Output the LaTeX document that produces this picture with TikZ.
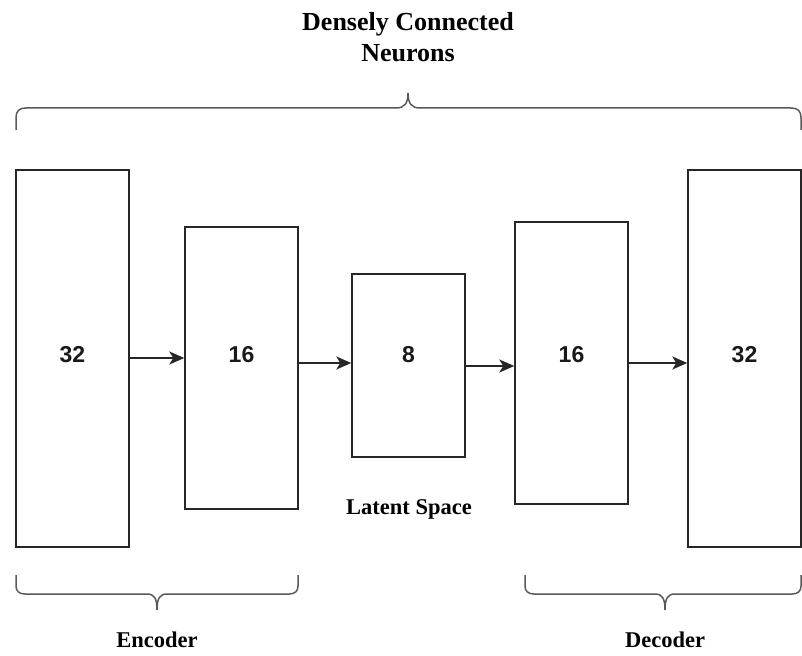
\documentclass[tikz,border=0pt]{standalone}
\usepackage{fontspec}
\setmainfont{Liberation Serif}
\newfontfamily\numfont{Liberation Sans}
\usetikzlibrary{arrows.meta}
\begin{document}
\begin{tikzpicture}[x=1pt,y=-1pt,
  layer/.style={draw=black!85,line width=1.4pt,fill=white,inner sep=0pt},
  num/.style={font=\numfont\bfseries\fontsize{23}{27}\selectfont,inner sep=0pt,text=black!90},
  flow/.style={-{Stealth[length=15pt,width=13pt,inset=4pt]},line width=1.8pt,draw=black!85},
  bracepath/.style={draw=black!65,line width=1.5pt},
  lbl/.style={font=\bfseries\fontsize{22.5}{27}\selectfont,inner sep=0pt}]
\useasboundingbox (0,0) rectangle (802,655);

\node[layer,minimum width=113pt,minimum height=377pt] (b1) at (72.5,358.5) {};
\node[layer,minimum width=113pt,minimum height=282pt] (b2) at (241.5,368) {};
\node[layer,minimum width=113pt,minimum height=183pt] (b3) at (408.5,365.5) {};
\node[layer,minimum width=113pt,minimum height=282pt] (b4) at (571.5,363) {};
\node[layer,minimum width=113pt,minimum height=377pt] (b5) at (744.5,358.5) {};

\node[num] (n1) at (b1.center |- 0,355) {32};
\node[num] (n2) at (b2.center |- 0,355) {16};
\node[num] (n3) at (b3.center |- 0,355) {8};
\node[num] (n4) at (b4.center |- 0,355) {16};
\node[num] (n5) at (b5.center |- 0,355) {32};

\draw[flow] (b1.east |- 0,358) -- (b2.west |- 0,358);
\draw[flow] (b2.east |- 0,363) -- (b3.west |- 0,363);
\draw[flow] (b3.east |- 0,366) -- (b4.west |- 0,366);
\draw[flow] (b4.east |- 0,363) -- (b5.west |- 0,363);

\node[font=\bfseries\fontsize{26}{31}\selectfont,align=center,inner sep=0pt] (title) at (408,37) {Densely Connected\\Neurons};
\node[lbl] (latent) at (409,509) {Latent Space};
\node[lbl] (enc) at (157,640) {Encoder};
\node[lbl] (dec) at (665,640) {Decoder};

% top brace
\draw[bracepath] (16,130) -- (16,118) .. controls (16,111) and (19,108) .. (26,108) -- (396,108)
  .. controls (404,108) and (408,104) .. (408,93)
  .. controls (408,104) and (412,108) .. (420,108) -- (791,108)
  .. controls (798,108) and (801,111) .. (801,118) -- (801,130);
% encoder brace
\draw[bracepath] (16,575) -- (16,586) .. controls (16,591) and (19,594) .. (25,594) -- (147,594)
  .. controls (154,594) and (157,598) .. (157,610)
  .. controls (157,598) and (160,594) .. (167,594) -- (289,594)
  .. controls (295,594) and (298,591) .. (298,586) -- (298,575);
% decoder brace
\draw[bracepath] (525,575) -- (525,586) .. controls (525,591) and (528,594) .. (534,594) -- (655,594)
  .. controls (662,594) and (665,598) .. (665,610)
  .. controls (665,598) and (668,594) .. (675,594) -- (792,594)
  .. controls (798,594) and (801,591) .. (801,586) -- (801,575);
\end{tikzpicture}
\end{document}
